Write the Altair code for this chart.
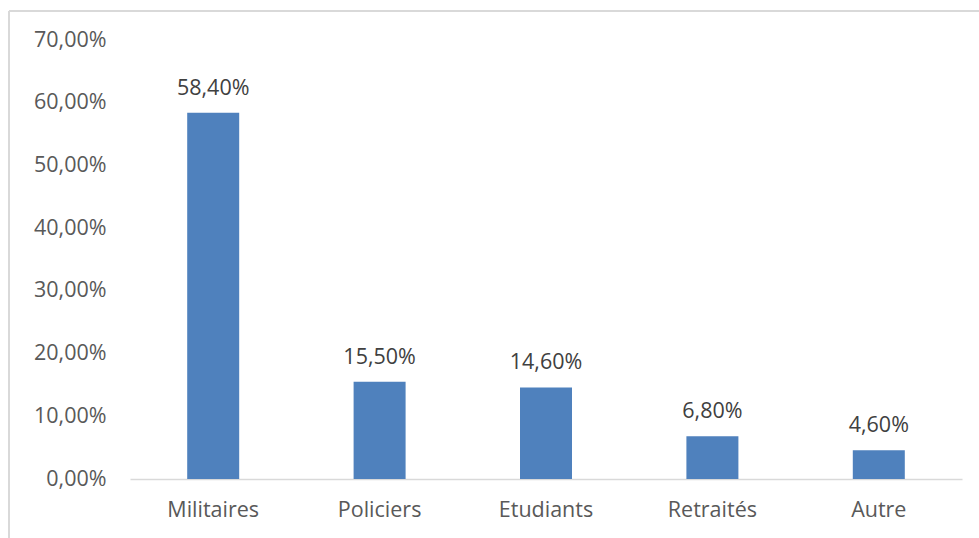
import altair as alt
import pandas as pd

categories = ["Militaires", "Policiers", "Etudiants", "Retraités", "Autre"]
values = [0.584, 0.155, 0.146, 0.068, 0.046]
y_ticks = [0.0, 0.1, 0.2, 0.3, 0.4, 0.5, 0.6, 0.7]

df = pd.DataFrame({"cat": categories, "val": values})

FONT = "Open Sans"
FS = 21.5
W, H = 832, 439
PL, PT = 130, 40

x_enc = alt.X("cat:N", sort=categories,
              scale=alt.Scale(paddingInner=0.6875, paddingOuter=0.34375),
              axis=alt.Axis(title=None, labelAngle=0, ticks=False,
                            domainColor="#D9D9D9", domainWidth=1.5,
                            labelColor="#595959", labelFontSize=FS, labelFont=FONT,
                            labelPadding=20))
y_enc = alt.Y("val:Q", scale=alt.Scale(domain=[0, 0.7], nice=False),
              axis=alt.Axis(title=None, values=y_ticks, grid=False, ticks=False, domain=False,
                            labelExpr="replace(format(datum.value, '.2%'), '.', ',')",
                            labelColor="#595959", labelFontSize=FS, labelFont=FONT,
                            labelPadding=24))

base = alt.Chart(df)

bars = base.mark_bar(color="#4F81BD").encode(x=x_enc, y=y_enc)

labels = base.transform_calculate(
    lab="replace(format(datum.val, '.2%'), '.', ',')"
).mark_text(dy=-18, baseline="alphabetic", fontSize=FS, font=FONT, color="#404040").encode(
    x=alt.X("cat:N", sort=categories), y="val:Q", text="lab:N")

frame_top = alt.Chart(df).mark_rule(color="#D9D9D9", strokeWidth=1.5, clip=False).encode(
    x=alt.value(9 - PL), x2=alt.value(979 - PL), y=alt.value(11 - PT))
frame_left = alt.Chart(df).mark_rule(color="#D9D9D9", strokeWidth=1.5, clip=False).encode(
    x=alt.value(9 - PL), y=alt.value(11 - PT), y2=alt.value(538 - PT))

chart = alt.layer(frame_top, frame_left, bars, labels).properties(
    width=W, height=H,
    background="white",
    autosize=alt.AutoSizeParams(type="none"),
    padding={"left": PL, "top": PT, "right": 979 - PL - W, "bottom": 538 - PT - H},
).configure_view(stroke=None, strokeWidth=0)

chart.save("out.html", embed_options={"renderer": "svg", "actions": False})
